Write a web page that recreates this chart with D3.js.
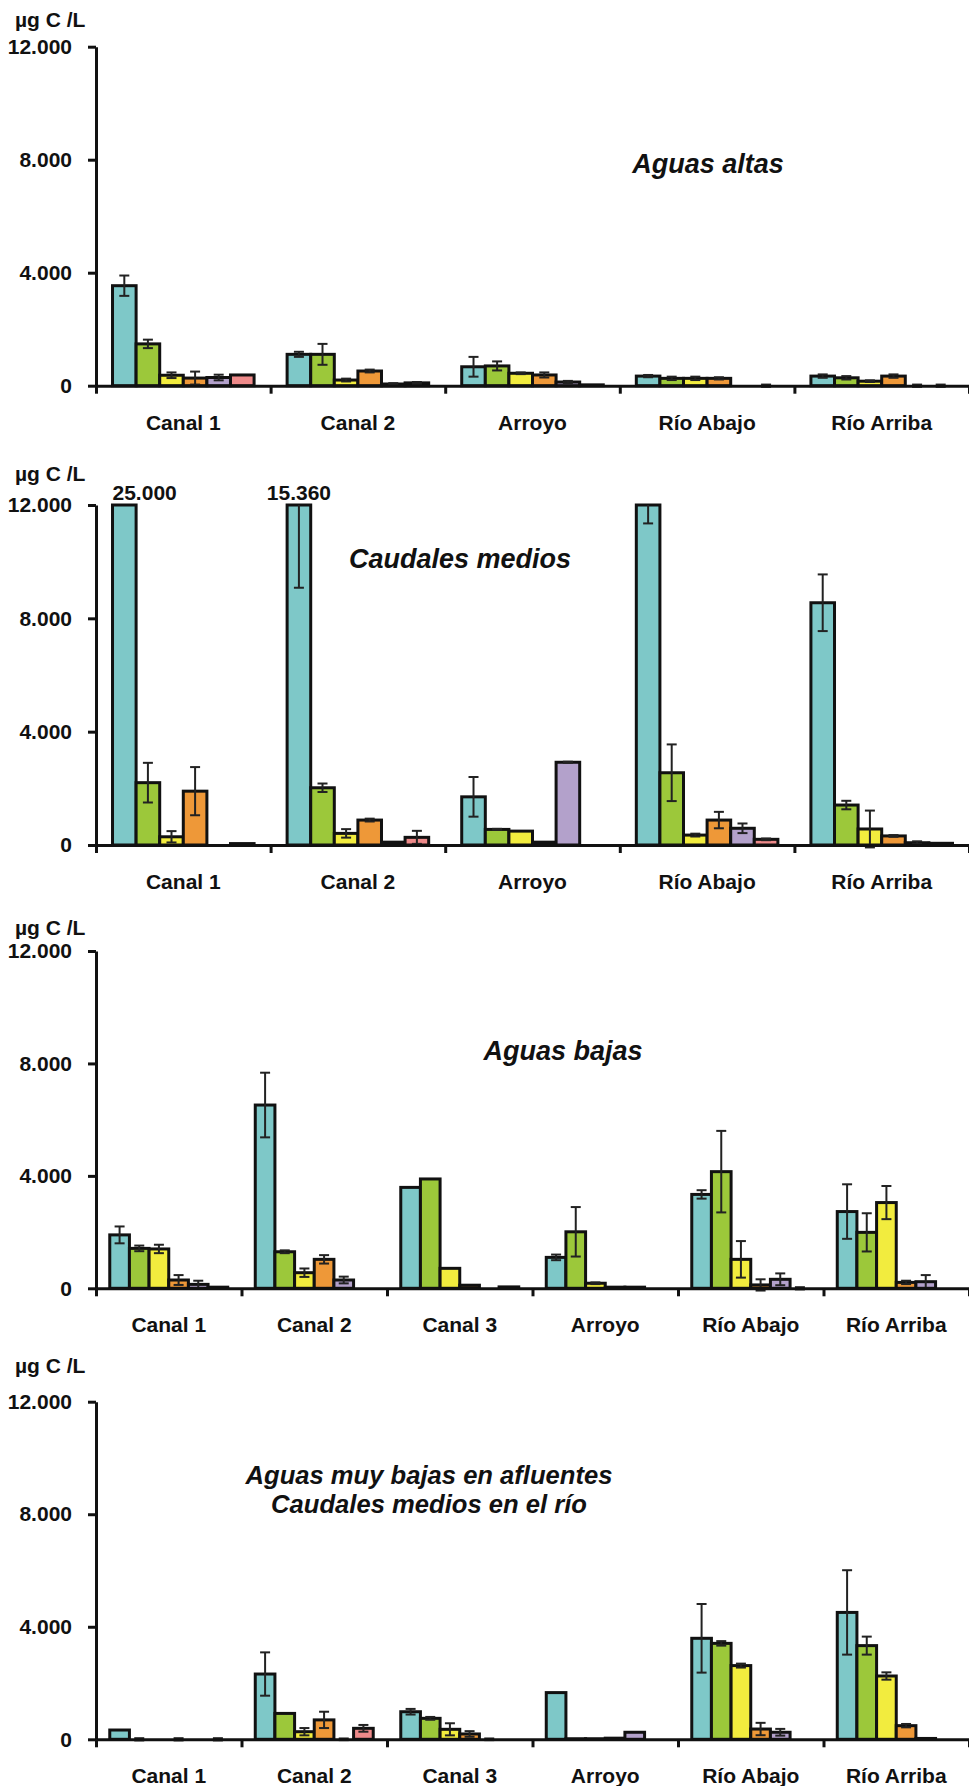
<!DOCTYPE html>
<html>
<head>
<meta charset="utf-8">
<script src="https://cdn.jsdelivr.net/npm/d3@7"></script>
<style>
  body { margin: 0; background: #fff; }
  svg { display: block; font-family: "Liberation Sans", Arial, sans-serif; }
  .axis path, .axis line { stroke: #111; stroke-width: 3; }
  .axis text { font-size: 21px; font-weight: bold; fill: #111; }
  .title { font-weight: bold; font-style: italic; fill: #111; }
  .unit { font-size: 21px; font-weight: bold; fill: #111; }
  .err { stroke: #222; stroke-width: 2; }
</style>
</head>
<body>
<svg id="chart" width="969" height="1786"></svg>
<script>
// categories
var sites5 = ["Canal 1", "Canal 2", "Arroyo", "Río Abajo", "Río Arriba"];
var sites6 = ["Canal 1", "Canal 2", "Canal 3", "Arroyo", "Río Abajo", "Río Arriba"];
var fractions = ["f1", "f2", "f3", "f4", "f5", "f6"];
var fractionColors = ["#7ec8c8", "#9cc83a", "#f2ec3e", "#ee9838", "#b3a1cb", "#ee8a8a"];
var yTicks = [0, 4000, 8000, 12000];
var yMax = 12000;

// Aguas altas  (one row per site, one column per fraction)
var altasVals = [
    [3540, 1480, 370, 270, 290, 380],
    [1110, 1110, 200, 520, 60, 100],
    [670, 700, 440, 380, 130, 30],
    [340, 260, 260, 260, 0, 0],
    [340, 280, 160, 340, 0, 0]
];
var altasErr = [
    [360, 150, 100, 230, 100, 0],
    [90, 370, 50, 50, 30, 30],
    [350, 160, 30, 90, 40, 0],
    [40, 60, 60, 40, 0, 40],
    [60, 60, 30, 60, 40, 40]
];

// Caudales medios
var mediosVals = [
    [25000, 2200, 290, 1900, 0, 50],
    [15360, 2020, 410, 880, 100, 270],
    [1700, 550, 490, 100, 2920, 0],
    [12000, 2550, 350, 880, 590, 200],
    [8550, 1410, 565, 320, 80, 60]
];
var mediosErr = [
    [0, 700, 200, 850, 0, 0],
    [6280, 150, 150, 50, 0, 230],
    [700, 20, 0, 0, 20, 0],
    [650, 1000, 50, 290, 170, 30],
    [1000, 150, 650, 30, 50, 0]
];

// Aguas bajas
var bajasVals = [
    [1900, 1420, 1400, 295, 140, 40],
    [6520, 1300, 555, 1030, 295, 0],
    [3590, 3890, 710, 110, 0, 50],
    [1100, 2010, 180, 40, 40, 0],
    [3340, 4150, 1030, 120, 320, 0],
    [2730, 1990, 3050, 210, 235, 0]
];
var bajasErr = [
    [300, 100, 150, 175, 130, 0],
    [1150, 50, 150, 150, 120, 0],
    [0, 0, 0, 0, 0, 0],
    [100, 880, 30, 0, 0, 0],
    [150, 1450, 650, 200, 210, 40],
    [970, 680, 590, 60, 235, 0]
];

// Aguas muy bajas en afluentes / caudales medios en el río
var muyBajasVals = [
    [330, 0, 0, 0, 0, 0],
    [2320, 920, 270, 690, 0, 390],
    [980, 745, 355, 190, 0, 0],
    [1660, 20, 20, 40, 250, 0],
    [3590, 3410, 2620, 365, 250, 0],
    [4510, 3330, 2250, 485, 30, 0]
];
var muyBajasErr = [
    [0, 40, 0, 40, 0, 40],
    [770, 0, 130, 290, 30, 120],
    [100, 50, 215, 100, 30, 0],
    [0, 0, 0, 0, 0, 0],
    [1220, 80, 70, 220, 120, 0],
    [1500, 320, 130, 60, 0, 0]
];

var thousands = d3.formatLocale({decimal: ",", thousands: ".", grouping: [3], currency: ["", "€"]}).format(",");

var svg = d3.select("#chart");
var left = 96, right = 969;

function drawPanel(cfg)
{
    var g = svg.append("g");
    var cats = cfg.cats;

    var y = d3.scaleLinear().domain([0, yMax]).range([cfg.zero, cfg.top]);
    var x = d3.scaleBand().domain(cats).range([left, right]).padding(0);
    var xb = d3.scaleLinear().domain([0, cats.length]).range([left, right]);
    var xi = d3.scaleBand().domain(fractions).range([0, x.bandwidth()])
        .paddingInner(0).paddingOuter(0.7);

    // bars
    cats.forEach(function(c, ci){
        var grp = g.append("g").attr("transform", "translate(" + x(c) + ",0)");
        grp.selectAll("rect")
          .data(cfg.vals[ci])
          .enter().append("rect")
            .attr("x", function(d, i) { return xi(fractions[i]); })
            .attr("y", function(d) { return y(Math.min(d, yMax)); })
            .attr("width", xi.bandwidth())
            .attr("height", function(d) { return y(0) - y(Math.min(d, yMax)); })
            .style("fill", function(d, i) { return fractionColors[i]; })
            .style("stroke", "#111")
            .style("stroke-width", 3);

        // error bars
        cfg.vals[ci].forEach(function(v, i){
            var e = cfg.errs[ci][i];
            if(e == 0)
                return;
            var cx = xi(fractions[i]) + xi.bandwidth() / 2;
            var hi = v + e, lo = v - e;
            var yHi = y(Math.min(hi, yMax)), yLo = y(Math.min(lo, yMax));
            grp.append("line").attr("class", "err")
                .attr("x1", cx).attr("x2", cx).attr("y1", yHi).attr("y2", yLo);
            if(hi <= yMax)
                grp.append("line").attr("class", "err")
                    .attr("x1", cx - 5).attr("x2", cx + 5).attr("y1", yHi).attr("y2", yHi);
            if(lo <= yMax)
                grp.append("line").attr("class", "err")
                    .attr("x1", cx - 5).attr("x2", cx + 5).attr("y1", yLo).attr("y2", yLo);
        });

        // value label on clipped bars
        cfg.vals[ci].forEach(function(v, i){
            if(v <= yMax)
                return;
            var bx = x(c) + xi(fractions[i]);
            var t = g.append("text")
                .attr("class", "unit")
                .attr("x", bx + xi.bandwidth() / 2)
                .attr("y", y(yMax) - 5)
                .style("text-anchor", "middle")
                .text(thousands(v));
            var w = t.node().getBBox().width;
            if(bx + xi.bandwidth() / 2 - w / 2 < left + 4)
                t.attr("x", bx).style("text-anchor", "start");
        });
    });

    // y axis
    g.append("g")
        .attr("class", "axis")
        .attr("transform", "translate(" + left + ",0)")
        .call(d3.axisLeft(y).tickValues(yTicks).tickFormat(thousands)
            .tickSize(8).tickSizeOuter(0).tickPadding(16));

    // x axis line and boundary ticks
    g.append("g")
        .attr("class", "axis")
        .attr("transform", "translate(0," + cfg.zero + ")")
        .call(d3.axisBottom(xb).tickValues(d3.range(cats.length + 1))
            .tickFormat("").tickSize(8).tickSizeOuter(0));

    // category labels
    var lab = g.append("g")
        .attr("class", "axis")
        .attr("transform", "translate(0," + cfg.zero + ")")
        .call(d3.axisBottom(x).tickSize(0).tickPadding(29));
    lab.select(".domain").remove();

    // unit
    g.append("text")
        .attr("class", "unit")
        .attr("x", 15)
        .attr("y", cfg.unitY)
        .text("µg C /L");

    // title
    var tt = g.append("text")
        .attr("class", "title")
        .style("font-size", cfg.titleSize + "px")
        .style("text-anchor", "middle");
    cfg.title.forEach(function(line, i){
        tt.append("tspan")
            .attr("x", cfg.titleX)
            .attr("y", cfg.titleY + i * 29)
            .text(line);
    });
}

drawPanel({cats: sites5, vals: altasVals, errs: altasErr,
    top: 46.7, zero: 385.7, unitY: 27,
    title: ["Aguas altas"], titleX: 708, titleY: 173, titleSize: 27});
drawPanel({cats: sites5, vals: mediosVals, errs: mediosErr,
    top: 505, zero: 845, unitY: 481,
    title: ["Caudales medios"], titleX: 460, titleY: 568, titleSize: 27});
drawPanel({cats: sites6, vals: bajasVals, errs: bajasErr,
    top: 951, zero: 1288.3, unitY: 935,
    title: ["Aguas bajas"], titleX: 563, titleY: 1060, titleSize: 27});
drawPanel({cats: sites6, vals: muyBajasVals, errs: muyBajasErr,
    top: 1401.7, zero: 1739.3, unitY: 1373,
    title: ["Aguas muy bajas en afluentes", "Caudales medios en el río"],
    titleX: 429, titleY: 1484, titleSize: 25.6});
</script>
</body>
</html>
